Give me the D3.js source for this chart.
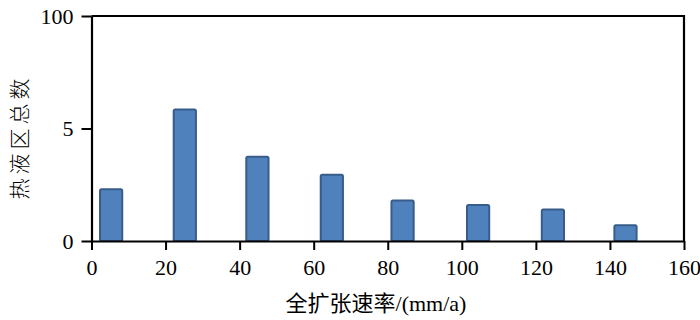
<!DOCTYPE html>
<html>
<head>
<meta charset="utf-8">
<script src="https://cdn.jsdelivr.net/npm/d3@7"></script>
<style>
  body { margin: 0; background: #fff; }
  svg { display: block; }
  .tick text { font-family: "Liberation Serif", "Times New Roman", serif; font-size: 22px; fill: #000; }
</style>
</head>
<body>
<div class="container"><svg width="700" height="320"></svg></div>
<script>
// spreading rate bins (bar centres, mm/a) and count of vent fields
var rates = [5.3, 25.2, 44.8, 64.9, 84, 104.4, 124.6, 144.2];
var counts = [2.3, 5.85, 3.75, 2.95, 1.8, 1.6, 1.4, 0.7];

var xTicks = [0, 20, 40, 60, 80, 100, 120, 140, 160];
var yTicks = [0, 5, 10];
var yTickLabels = ["0", "5", "100"];

var xTitle = "全扩张速率/(mm/a)";
var yTitle = "热液区总数";

function draw_chart() {
    var svg = d3.select(".container").select("svg");
    var plotLeft = 91.5, plotRight = 684, plotTop = 16, plotBottom = 241;
    var barW = 6; // in data units

    var x = d3.scaleLinear().domain([0, 160]).range([plotLeft, plotRight]);
    var y = d3.scaleLinear().domain([0, 10]).range([plotBottom, plotTop]);

    // bars
    svg.append("g")
        .selectAll("rect")
        .data(rates)
        .enter().append("rect")
        .attr("x", function (d) { return x(d - barW / 2); })
        .attr("width", function (d) { return x(d + barW / 2) - x(d - barW / 2); })
        .attr("y", function (d, i) { return y(counts[i]); })
        .attr("height", function (d, i) { return y(0) - y(counts[i]); })
        .attr("rx", 1.5)
        .attr("fill", "#4f81bd")
        .attr("stroke", "#385d8a")
        .attr("stroke-width", 2);

    // frame (top and right)
    svg.append("path")
        .attr("d", "M" + plotLeft + "," + plotTop + "H" + plotRight + "V" + plotBottom)
        .attr("fill", "none")
        .attr("stroke", "#000")
        .attr("stroke-width", 2.2);

    // x axis
    var xAxis = d3.axisBottom(x)
        .tickValues(xTicks)
        .tickSize(9)
        .tickPadding(9)
        .tickSizeOuter(0)
        .tickFormat(d3.format("d"));

    svg.append("g")
        .attr("transform", "translate(0," + plotBottom + ")")
        .call(xAxis)
        .call(function (g) {
            g.select(".domain").attr("stroke-width", 2.2);
            g.selectAll(".tick line").attr("stroke-width", 2);
        });

    // y axis
    var yAxis = d3.axisLeft(y)
        .tickValues(yTicks)
        .tickSize(10)
        .tickPadding(8)
        .tickSizeOuter(0)
        .tickFormat(function (d, i) { return yTickLabels[i]; });

    svg.append("g")
        .attr("transform", "translate(" + plotLeft + ",0)")
        .call(yAxis)
        .call(function (g) {
            g.select(".domain").attr("stroke-width", 2.2);
            g.selectAll(".tick line").attr("stroke-width", 2);
        });

    // axis titles
    svg.append("text")
        .attr("x", 376)
        .attr("y", 311)
        .attr("text-anchor", "middle")
        .attr("font-family", "'Liberation Serif', 'Noto Sans CJK SC', serif")
        .attr("font-size", 22)
        .attr("fill", "#000")
        .text(xTitle);

    svg.append("text")
        .attr("transform", "translate(27,137) rotate(-90)")
        .attr("text-anchor", "middle")
        .attr("font-family", "'Noto Sans CJK SC', sans-serif")
        .attr("font-size", 21)
        .attr("font-weight", 300)
        .attr("letter-spacing", 4)
        .attr("fill", "#000")
        .text(yTitle);
}

draw_chart();
</script>
</body>
</html>
